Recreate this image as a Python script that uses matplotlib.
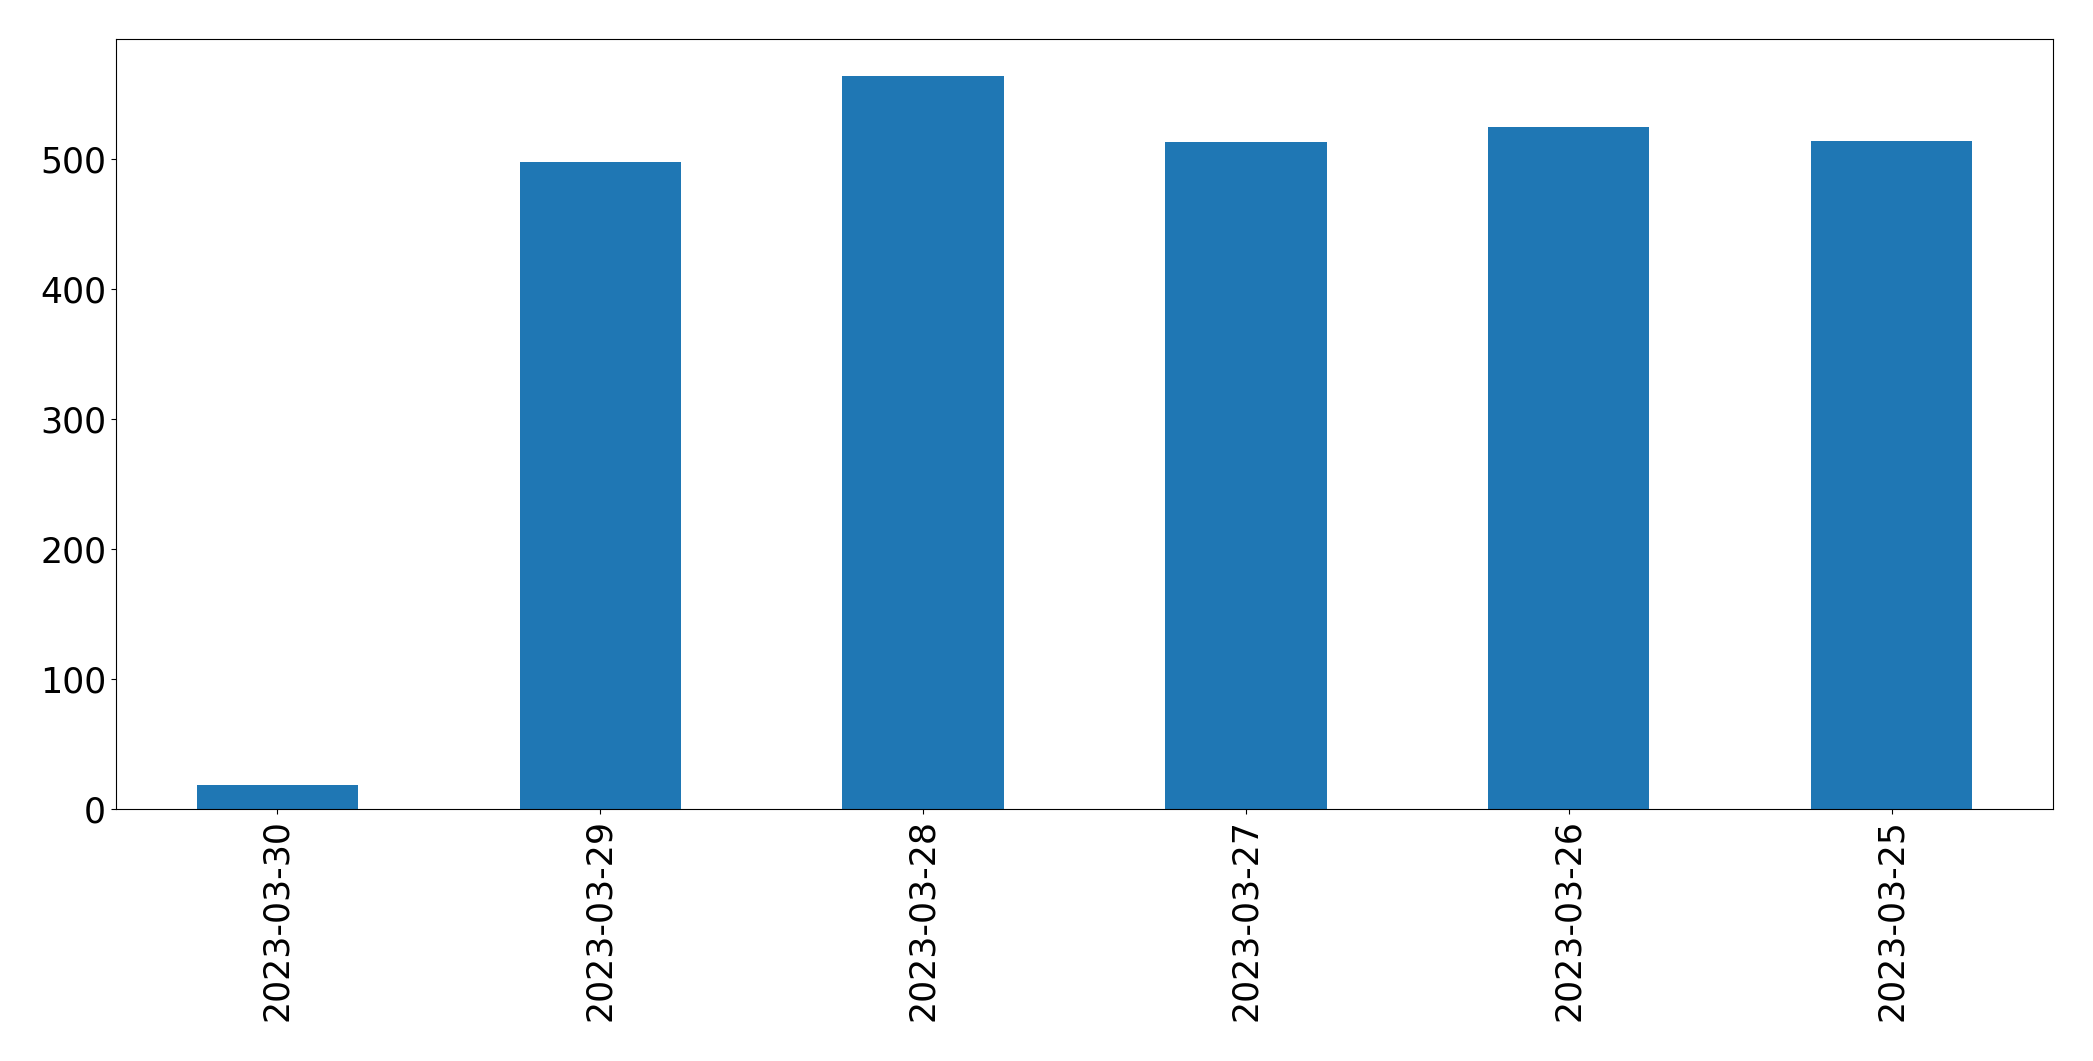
import matplotlib
matplotlib.use("Agg")
import matplotlib.pyplot as plt

# daily counts, newest first (as in the source plot)
dates = ['2023-03-30', '2023-03-29', '2023-03-28', '2023-03-27', '2023-03-26', '2023-03-25']
counts = [19, 498, 564, 513, 525, 514]

fig = plt.figure(figsize=(20.93, 10.61), dpi=100)
ax = fig.add_axes([0.0554, 0.2372, 0.9255, 0.7258])

x = range(len(dates))
ax.bar(x, counts, width=0.5, color='#1f77b4')
ax.set_xlim(-0.5, len(dates) - 0.5)
ax.set_xticks(list(x))
ax.set_xticklabels(dates, rotation=90)
ax.tick_params(axis='both', labelsize=25)

fig.savefig('out.png', dpi=100)
plt.close(fig)
